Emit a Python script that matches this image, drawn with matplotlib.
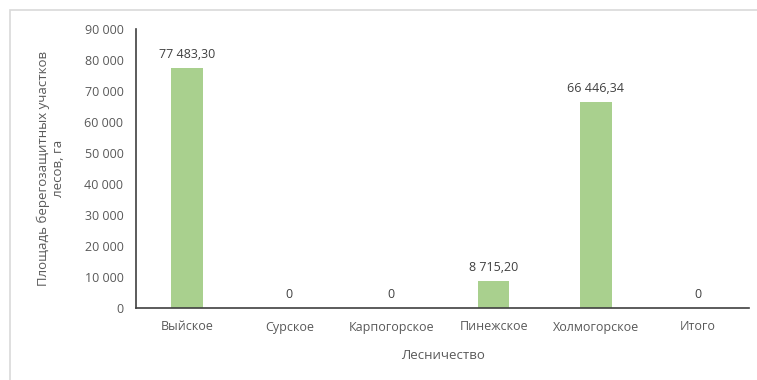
import matplotlib.pyplot as plt
from matplotlib.patches import Rectangle
from matplotlib.ticker import FuncFormatter

plt.rcParams['font.family'] = ['Open Sans', 'DejaVu Sans']

forestries = ['Выйское', 'Сурское', 'Карпогорское', 'Пинежское', 'Холмогорское', 'Итого']
area_ha = [77483.30, 0, 0, 8715.20, 66446.34, 0]

text_color = '#595959'
bar_color = '#A9D08E'


def fmt_value(v):
    if v == 0:
        return '0'
    s = '{:,.2f}'.format(v)
    return s.replace(',', ' ').replace('.', ',')


fig = plt.figure(figsize=(7.57, 3.80), dpi=100)
# light frame around the chart area
fig.patches.append(Rectangle((10 / 757, -0.1), 1.1, 1.1 - 10 / 380, transform=fig.transFigure,
                             fill=False, edgecolor='#D9D9D9', linewidth=1.2))

ax = fig.add_axes([136 / 757, 1 - 308 / 380, (749 - 136) / 757, (308 - 29) / 380])
x = range(len(forestries))
bars = ax.bar(x, area_ha, width=0.31, color=bar_color)

for xi, v in zip(x, area_ha):
    ax.annotate(fmt_value(v), (xi, v), xytext=(0, 5), textcoords='offset points',
                ha='center', va='bottom', fontsize=9, color='#404040')

ax.set_xlim(-0.5, len(forestries) - 0.5)
ax.set_ylim(0, 90000)
ax.set_yticks(range(0, 90001, 10000))
ax.yaxis.set_major_formatter(FuncFormatter(lambda v, p: '{:,.0f}'.format(v).replace(',', ' ')))
ax.set_xticks(list(x))
ax.set_xticklabels(forestries)
ax.tick_params(axis='both', length=0, labelsize=9, labelcolor=text_color)
ax.tick_params(axis='y', pad=9)
ax.tick_params(axis='x', pad=9)

for side in ['top', 'right']:
    ax.spines[side].set_visible(False)
for side in ['left', 'bottom']:
    ax.spines[side].set_color('#404040')
    ax.spines[side].set_linewidth(1.2)

ax.set_xlabel('Лесничество', fontsize=9.5, color=text_color, labelpad=11)
ax.set_ylabel('Площадь берегозащитных участков\nлесов, га', fontsize=9.5, color=text_color,
              labelpad=14, linespacing=1.2)

fig.savefig('out.png', dpi=100)
